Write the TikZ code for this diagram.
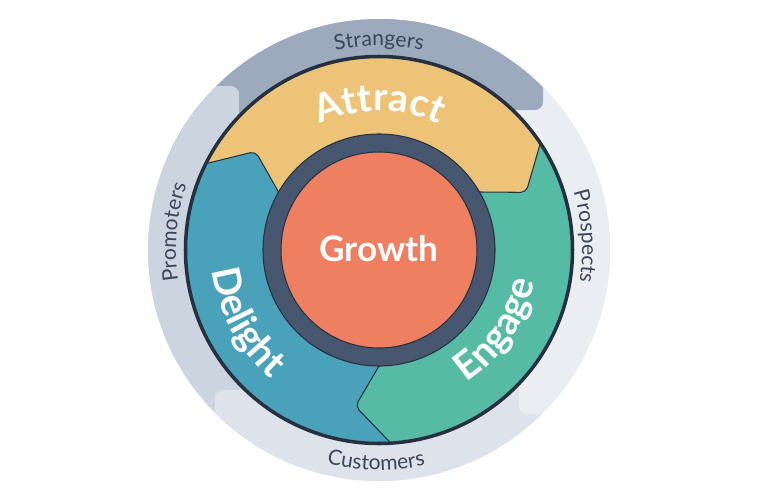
\documentclass[tikz,border=0pt]{standalone}
\usepackage{fontspec}
\setmainfont{Lato}
\usepackage{tikz}
\usetikzlibrary{calc, decorations.text}

\definecolor{giallo}{HTML}{EDC377}
\definecolor{verde}{HTML}{55BBA4}
\definecolor{azzurro}{HTML}{4AA2BA}
\definecolor{arancio}{HTML}{EE7F61}
\definecolor{blunotte}{HTML}{46576F}
\definecolor{bordo}{HTML}{253140}
\definecolor{grigioA}{HTML}{9DA9BD}
\definecolor{grigioB}{HTML}{EAEEF3}
\definecolor{grigioC}{HTML}{DEE2EA}
\definecolor{grigioD}{HTML}{CCD4DF}
\definecolor{scritta}{HTML}{3B4658}

\tikzset{
  linea/.style={draw=bordo, line width=0.6pt, rounded corners=3pt},
  fase/.style={decorate, decoration={text along path, text align=center, text color=white}},
  anello/.style={decorate, decoration={text along path, text align=center, text color=scritta}},
}

\begin{document}
\begin{tikzpicture}
    % sfondo
    \fill[white] (-7.58,-5.04) rectangle (7.78,5.0);
    \useasboundingbox (-7.58,-5.04) rectangle (7.78,5.0);

    % punti delle frecce
    \foreach \t in {30,150,270} {
        \coordinate (p\t) at ({\t-8.6}:3.16);
        \coordinate (i\t) at ($(p\t)!1.35!(\t:2.32)$);
        \coordinate (o\t) at ($(p\t)!1.25!({\t+3.5}:3.87)$);
    }

    % fasi
    \foreach \t/\u/\col in {30/150/giallo, 270/30/verde, 150/270/azzurro} {
        \fill[\col, rounded corners=3pt] (i\t) -- (p\t) -- (o\t) -- ({\t+5}:4.3)
            arc[start angle=\t+5, end angle=\t+125, radius=4.3] -- (o\u) -- (p\u) -- (i\u)
            -- ({\t+120}:1.8) arc[start angle=\t+120, end angle=\t, radius=1.8] -- cycle;
    }
    \foreach \t in {30,150,270}
        \draw[linea] (i\t) -- (p\t) -- (o\t);

    % anello esterno
    \begin{scope}
        \clip (4.62,0) arc[start angle=0, end angle=360, radius=4.62] -- cycle
              (3.87,0) arc[start angle=360, end angle=0, radius=3.87] -- cycle;
        \fill[grigioC] (0,0) circle (4.7);
        \foreach \r/\col in {0/grigioA, 90/grigioD, 180/grigioC, 270/grigioB}
            \fill[\col, rounded corners=4.5pt, rotate=\r] (-5,5) -- (-5,2) -- (0,2) -- (0,2.8)
                -- (3.28,2.8) -- (3.28,5) -- cycle;
        \fill[grigioA, rounded corners=4.5pt] (0,2.8) rectangle (3.28,5);
    \end{scope}
    \draw[bordo, line width=2pt] (0,0) circle (3.87);

    % centro
    \fill[blunotte] (0,0) circle (2.32);
    \draw[bordo, line width=0.6pt] (0,0) circle (2.32);
    \fill[arancio] (0,0) circle (1.96);
    \draw[bordo, line width=0.6pt] (0,0) circle (1.96);
    \node[text=white, font=\fontsize{20}{20}\selectfont\bfseries] (crescita) at (0,0.02) {Growth};

    % scritte delle fasi
    \path[fase, decoration={text={|\fontsize{22}{22}\selectfont\bfseries|Attract}}]
        (150:2.78) arc[start angle=150, end angle=30, radius=2.78];
    \path[fase, decoration={text={|\fontsize{22}{22}\selectfont\bfseries|Engage}}]
        (-94:3.18) arc[start angle=-94, end angle=26, radius=3.18];
    \path[fase, decoration={text={|\fontsize{22}{22}\selectfont\bfseries|Delight}}]
        (-211.5:3.36) arc[start angle=-211.5, end angle=-91.5, radius=3.36];

    % scritte dell'anello
    \path[anello, decoration={text={|\fontsize{12}{12}\selectfont|Strangers}}]
        (150:4.08) arc[start angle=150, end angle=30, radius=4.08];
    \path[anello, decoration={text={|\fontsize{12}{12}\selectfont|Prospects}}]
        (63.8:4.06) arc[start angle=63.8, end angle=-56.2, radius=4.06];
    \path[anello, decoration={text={|\fontsize{12}{12}\selectfont|Customers}}]
        (-150.8:4.4) arc[start angle=-150.8, end angle=-30.8, radius=4.4];
    \path[anello, decoration={text={|\fontsize{12}{12}\selectfont|Promoters}}]
        (235:4.06) arc[start angle=235, end angle=115, radius=4.06];
\end{tikzpicture}
\end{document}
